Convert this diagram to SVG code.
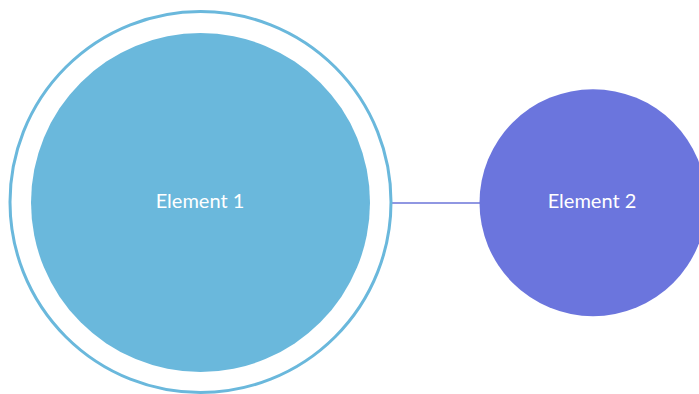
<svg xmlns="http://www.w3.org/2000/svg" width="699" height="394" viewBox="0 0 699 394">
<style>
.lbl{font-family:Lato,"Liberation Sans",sans-serif;font-size:20px;fill:#ffffff;text-anchor:middle}
</style>
<rect width="699" height="394" fill="#ffffff"/>
<g id="connectors">
<line x1="391" y1="203" x2="480" y2="203" stroke="#6b75d9" stroke-width="1.5"/>
</g>
<g id="node1">
<circle cx="200.5" cy="202" r="190.5" fill="none" stroke="#6ab8dc" stroke-width="3"/>
<circle cx="200.5" cy="202.5" r="169.5" fill="#6ab8dc"/>
<text class="lbl" x="200" y="208">Element 1</text>
</g>
<g id="node2">
<circle cx="593" cy="202.7" r="113.5" fill="#6b75dd"/>
<text class="lbl" x="592" y="208">Element 2</text>
</g>
</svg>
